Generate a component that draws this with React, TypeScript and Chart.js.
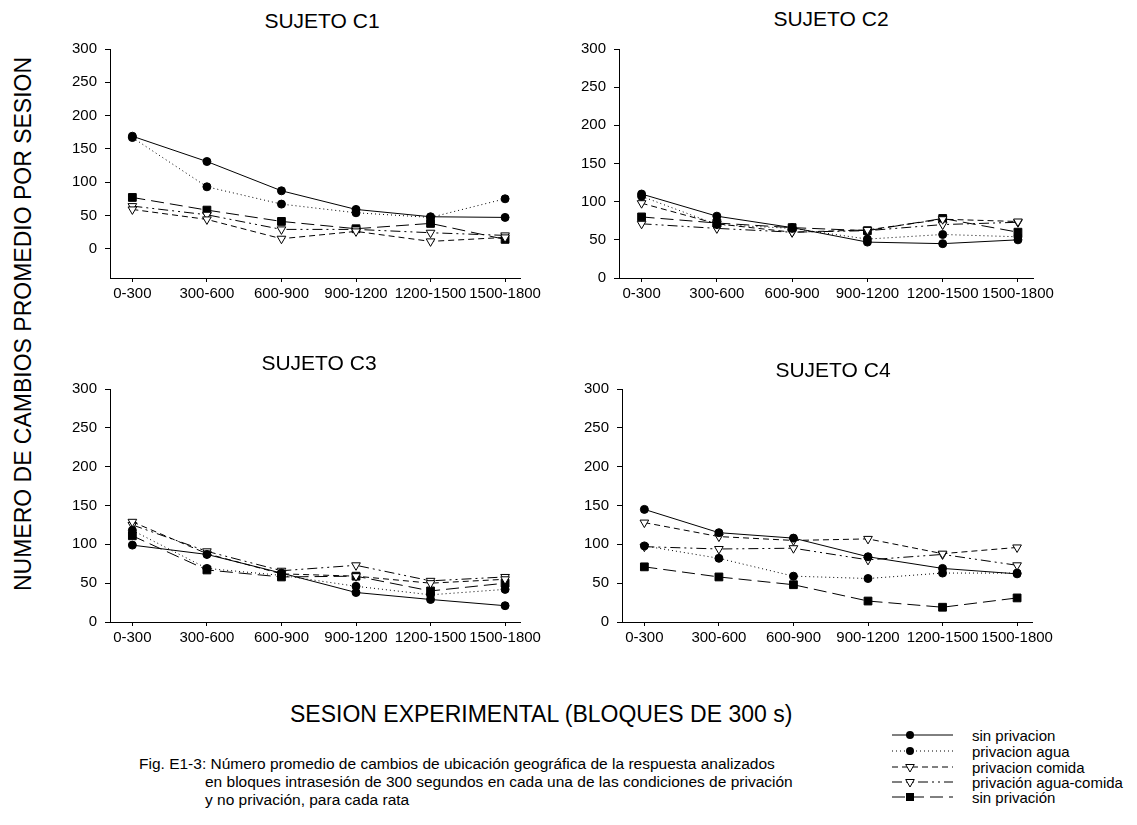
import React, { useEffect, useRef } from 'react';
import { Chart, registerables } from 'chart.js';

Chart.register(...registerables);

// ---------- DATA ----------
const categories = ['0-300', '300-600', '600-900', '900-1200', '1200-1500', '1500-1800'];
const yTickValues = [0, 50, 100, 150, 200, 250, 300];
const seriesLabels = ['sin privacion', 'privacion agua', 'privacion comida', 'privación agua-comida', 'sin privación'];

// Sujeto C1
const c1SinPrivacion = [169, 131, 87, 59, 48, 47];
const c1PrivacionAgua = [167, 93, 67, 54, 47, 75];
const c1PrivacionComida = [59, 44, 15, 26, 11, 17];
const c1PrivacionAguaComida = [64, 51, 29, 29, 24, 20];
const c1SinPrivacion2 = [77, 58, 41, 30, 38, 14];

// Sujeto C2
const c2SinPrivacion = [110, 81, 66, 47, 45, 50];
const c2PrivacionAgua = [107, 70, 65, 51, 57, 54];
const c2PrivacionComida = [98, 71, 60, 63, 77, 74];
const c2PrivacionAguaComida = [71, 65, 60, 62, 70, 73];
const c2SinPrivacion2 = [80, 72, 66, 62, 78, 60];

// Sujeto C3
const c3SinPrivacion = [99, 87, 63, 38, 29, 21];
const c3PrivacionAgua = [118, 69, 60, 46, 35, 42];
const c3PrivacionComida = [129, 88, 62, 59, 50, 55];
const c3PrivacionAguaComida = [125, 91, 66, 73, 53, 58];
const c3SinPrivacion2 = [111, 67, 58, 59, 40, 50];

// Sujeto C4
const c4SinPrivacion = [145, 115, 108, 84, 69, 62];
const c4PrivacionAgua = [98, 82, 59, 56, 63, 63];
const c4PrivacionComida = [128, 110, 105, 107, 88, 96];
const c4PrivacionAguaComida = [97, 94, 95, 80, 87, 73];
const c4SinPrivacion2 = [71, 58, 48, 27, 19, 31];

// ---------- STYLES ----------
const FONT = "'Liberation Sans', Arial, Helvetica, sans-serif";
const seriesStyles = [
  { dash: [] as number[], point: 'circle', fill: '#000', radius: 4, rotation: 0 },
  { dash: [1, 3], point: 'circle', fill: '#000', radius: 4, rotation: 0 },
  { dash: [6, 4], point: 'triangle', fill: '#fff', radius: 5, rotation: 180 },
  { dash: [10, 4, 2, 4, 2, 4], point: 'triangle', fill: '#fff', radius: 5, rotation: 180 },
  { dash: [13, 6], point: 'rect', fill: '#000', radius: 5.5, rotation: 0 },
];

type Area = { left: number; top: number; right: number; bottom: number };

function Panel({ series, area, yMin }: { series: number[][]; area: Area; yMin: number }) {
  const ref = useRef<HTMLCanvasElement | null>(null);
  const padTop = 12;
  const yW = 50;
  const padRight = 40;
  const xH = 30;
  const left = area.left - yW;
  const top = area.top - padTop;
  const width = area.right + padRight - left;
  const height = area.bottom + xH - top;

  useEffect(() => {
    if (!ref.current) return;
    const chart = new Chart(ref.current, {
      type: 'line',
      data: {
        datasets: series.map((vals, i) => {
          const st = seriesStyles[i];
          return {
            label: seriesLabels[i],
            data: vals.map((v, j) => ({ x: j, y: v })),
            borderColor: '#000',
            borderWidth: 1,
            borderDash: st.dash,
            pointStyle: st.point as any,
            pointRadius: st.radius,
            pointRotation: st.rotation,
            pointBackgroundColor: st.fill,
            pointBorderColor: '#000',
            pointBorderWidth: 1,
            tension: 0,
            fill: false,
          };
        }),
      },
      options: {
        responsive: false,
        animation: false,
        devicePixelRatio: 1,
        layout: { padding: { top: padTop, right: padRight, left: 0, bottom: 0 } },
        plugins: { legend: { display: false }, tooltip: { enabled: false }, title: { display: false } },
        scales: {
          x: {
            type: 'linear',
            min: -0.3,
            max: 5.2,
            afterBuildTicks: (s: any) => {
              s.ticks = categories.map((_, i) => ({ value: i }));
            },
            afterFit: (s: any) => {
              s.height = xH;
            },
            ticks: {
              callback: (v: any) => categories[Math.round(Number(v))] ?? '',
              font: { family: FONT, size: 15 },
              color: '#000',
              padding: 3,
              autoSkip: false,
              maxRotation: 0,
              minRotation: 0,
            },
            grid: { display: true, drawOnChartArea: false, drawTicks: true, tickLength: 4, color: '#000' },
            border: { display: true, color: '#000', width: 1 },
          },
          y: {
            type: 'linear',
            min: yMin,
            max: 300,
            afterBuildTicks: (s: any) => {
              s.ticks = yTickValues.map((v) => ({ value: v }));
            },
            afterFit: (s: any) => {
              s.width = yW;
            },
            ticks: {
              font: { family: FONT, size: 15 },
              color: '#000',
              padding: 8,
            },
            grid: { display: true, drawOnChartArea: false, drawTicks: true, tickLength: 5, color: '#000' },
            border: { display: true, color: '#000', width: 1 },
          },
        },
      } as any,
    });
    return () => chart.destroy();
  }, []);

  return (
    <canvas
      ref={ref}
      width={width}
      height={height}
      style={{ position: 'absolute', left, top, width, height }}
    />
  );
}

function Label({ text, x, y, size, align = 'center', rotate = false }: { text: string; x: number; y: number; size: number; align?: 'center' | 'left'; rotate?: boolean }) {
  const transform = rotate
    ? 'translate(-50%, -50%) rotate(-90deg)'
    : align === 'center'
    ? 'translate(-50%, -50%)'
    : 'translate(0, -50%)';
  return (
    <div
      style={{
        position: 'absolute',
        left: x,
        top: y,
        transform,
        fontFamily: FONT,
        fontSize: size,
        lineHeight: 1,
        whiteSpace: 'nowrap',
        color: '#000',
      }}
    >
      {text}
    </div>
  );
}

function LegendIcon({ idx, y }: { idx: number; y: number }) {
  const st = seriesStyles[idx];
  const mx = 25;
  let marker: React.ReactNode = null;
  if (st.point === 'circle') marker = <circle cx={mx} cy={y} r={4} fill="#000" />;
  else if (st.point === 'rect') marker = <rect x={mx - 4} y={y - 4} width={8} height={8} fill="#000" />;
  else marker = <polygon points={`${mx - 4.3},${y - 2.5} ${mx + 4.3},${y - 2.5} ${mx},${y + 5}`} fill="#fff" stroke="#000" strokeWidth={1} />;
  return (
    <g>
      <line x1={7} y1={y} x2={68} y2={y} stroke="#000" strokeWidth={1} strokeDasharray={st.dash.length ? st.dash.join(' ') : undefined} />
      {marker}
    </g>
  );
}

export default function App() {
  const legendRows = [735, 751, 767, 782, 797];
  return (
    <div style={{ position: 'absolute', left: 0, top: 0, width: 1137, height: 825, background: '#fff', overflow: 'hidden' }}>
      <Panel
        series={[c1SinPrivacion, c1PrivacionAgua, c1PrivacionComida, c1PrivacionAguaComida, c1SinPrivacion2]}
        area={{ left: 110, top: 44, right: 520, bottom: 278 }}
        yMin={-44}
      />
      <Panel
        series={[c2SinPrivacion, c2PrivacionAgua, c2PrivacionComida, c2PrivacionAguaComida, c2SinPrivacion2]}
        area={{ left: 619, top: 44, right: 1033, bottom: 278 }}
        yMin={0}
      />
      <Panel
        series={[c3SinPrivacion, c3PrivacionAgua, c3PrivacionComida, c3PrivacionAguaComida, c3SinPrivacion2]}
        area={{ left: 110, top: 384, right: 520, bottom: 622 }}
        yMin={0}
      />
      <Panel
        series={[c4SinPrivacion, c4PrivacionAgua, c4PrivacionComida, c4PrivacionAguaComida, c4SinPrivacion2]}
        area={{ left: 622, top: 384, right: 1032, bottom: 622 }}
        yMin={0}
      />

      <Label text="SUJETO C1" x={322} y={20} size={21} />
      <Label text="SUJETO C2" x={831} y={18} size={21} />
      <Label text="SUJETO C3" x={319} y={362} size={21} />
      <Label text="SUJETO C4" x={833} y={369} size={21} />

      <Label text="NUMERO DE CAMBIOS PROMEDIO POR SESION" x={23} y={324} size={23} rotate />
      <Label text="SESION EXPERIMENTAL (BLOQUES DE 300 s)" x={290} y={714} size={23} align="left" />

      <Label text="Fig. E1-3: Número promedio de cambios de ubicación geográfica de la respuesta analizados" x={139} y={764} size={15.5} align="left" />
      <Label text="en bloques intrasesión de 300 segundos en cada una de las condiciones de privación" x={205} y={782} size={15.5} align="left" />
      <Label text="y no privación, para cada rata" x={205} y={800} size={15.5} align="left" />

      <svg style={{ position: 'absolute', left: 885, top: 0, width: 80, height: 825 }} width={80} height={825}>
        {legendRows.map((y, i) => (
          <LegendIcon key={i} idx={i} y={y} />
        ))}
      </svg>
      {seriesLabels.map((t, i) => (
        <Label key={t + i} text={t} x={972} y={legendRows[i]} size={15} align="left" />
      ))}
    </div>
  );
}
